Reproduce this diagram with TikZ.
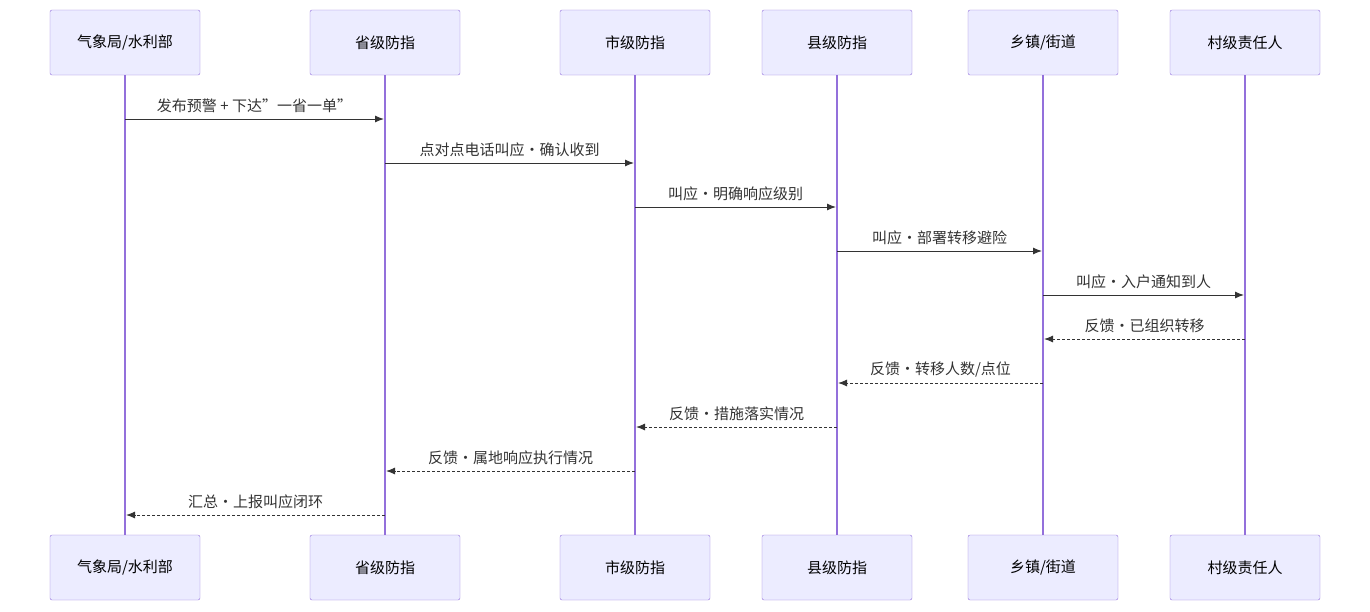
\documentclass[tikz,border=0pt]{standalone}
\usepackage{fontspec}
\setmainfont{Noto Sans CJK SC}
\usetikzlibrary{arrows.meta}
\definecolor{actfill}{HTML}{ECECFF}
\definecolor{actline}{HTML}{9370DB}
\definecolor{msgline}{HTML}{333333}
\tikzset{
  actor/.style={draw=actline, fill=actfill, rounded corners=2pt, minimum width=150pt, minimum height=65pt, font=\fontsize{15}{18}\selectfont, text=black},
  life/.style={draw=actline, line width=1.3pt},
  msg/.style={draw=msgline, line width=1pt, -{Latex[length=9pt,width=7pt]}},
  reply/.style={msg, dash pattern=on 3pt off 2pt},
  lbl/.style={font=\fontsize{15}{18}\selectfont, text=msgline, above=2pt}
}
\begin{document}
\begin{tikzpicture}[x=1pt,y=-1pt]
\useasboundingbox (0,0) rectangle (1370,611);

\node[actor] (qxt) at (125,42.5) {气象局/水利部};
\node[actor] (sft) at (385,42.5) {省级防指};
\node[actor] (sht) at (635,42.5) {市级防指};
\node[actor] (xjt) at (837,42.5) {县级防指};
\node[actor] (xzt) at (1043,42.5) {乡镇/街道};
\node[actor] (cjt) at (1245,42.5) {村级责任人};

\node[actor] (qxb) at (125,567.5) {气象局/水利部};
\node[actor] (sfb) at (385,567.5) {省级防指};
\node[actor] (shb) at (635,567.5) {市级防指};
\node[actor] (xjb) at (837,567.5) {县级防指};
\node[actor] (xzb) at (1043,567.5) {乡镇/街道};
\node[actor] (cjb) at (1245,567.5) {村级责任人};

\draw[life] (qxt) -- (qxb);
\draw[life] (sft) -- (sfb);
\draw[life] (sht) -- (shb);
\draw[life] (xjt) -- (xjb);
\draw[life] (xzt) -- (xzb);
\draw[life] (cjt) -- (cjb);

% calls down the chain
\coordinate (a1) at (125,119); \coordinate (b1) at (384,119);
\coordinate (a2) at (385,163); \coordinate (b2) at (634,163);
\coordinate (a3) at (635,207); \coordinate (b3) at (836,207);
\coordinate (a4) at (837,251); \coordinate (b4) at (1042,251);
\coordinate (a5) at (1043,295); \coordinate (b5) at (1244,295);
% feedback back up
\coordinate (a6) at (1245,339); \coordinate (b6) at (1044,339);
\coordinate (a7) at (1043,383); \coordinate (b7) at (838,383);
\coordinate (a8) at (837,427); \coordinate (b8) at (636,427);
\coordinate (a9) at (635,471); \coordinate (b9) at (386,471);
\coordinate (a10) at (385,515); \coordinate (b10) at (126,515);

\draw[msg] (a1) -- node[lbl] {发布预警 + 下达"一省一单"} (b1);
\draw[msg] (a2) -- node[lbl] {点对点电话叫应·确认收到} (b2);
\draw[msg] (a3) -- node[lbl] {叫应·明确响应级别} (b3);
\draw[msg] (a4) -- node[lbl] {叫应·部署转移避险} (b4);
\draw[msg] (a5) -- node[lbl] {叫应·入户通知到人} (b5);
\draw[reply] (a6) -- node[lbl] {反馈·已组织转移} (b6);
\draw[reply] (a7) -- node[lbl] {反馈·转移人数/点位} (b7);
\draw[reply] (a8) -- node[lbl] {反馈·措施落实情况} (b8);
\draw[reply] (a9) -- node[lbl] {反馈·属地响应执行情况} (b9);
\draw[reply] (a10) -- node[lbl] {汇总·上报叫应闭环} (b10);
\end{tikzpicture}
\end{document}
